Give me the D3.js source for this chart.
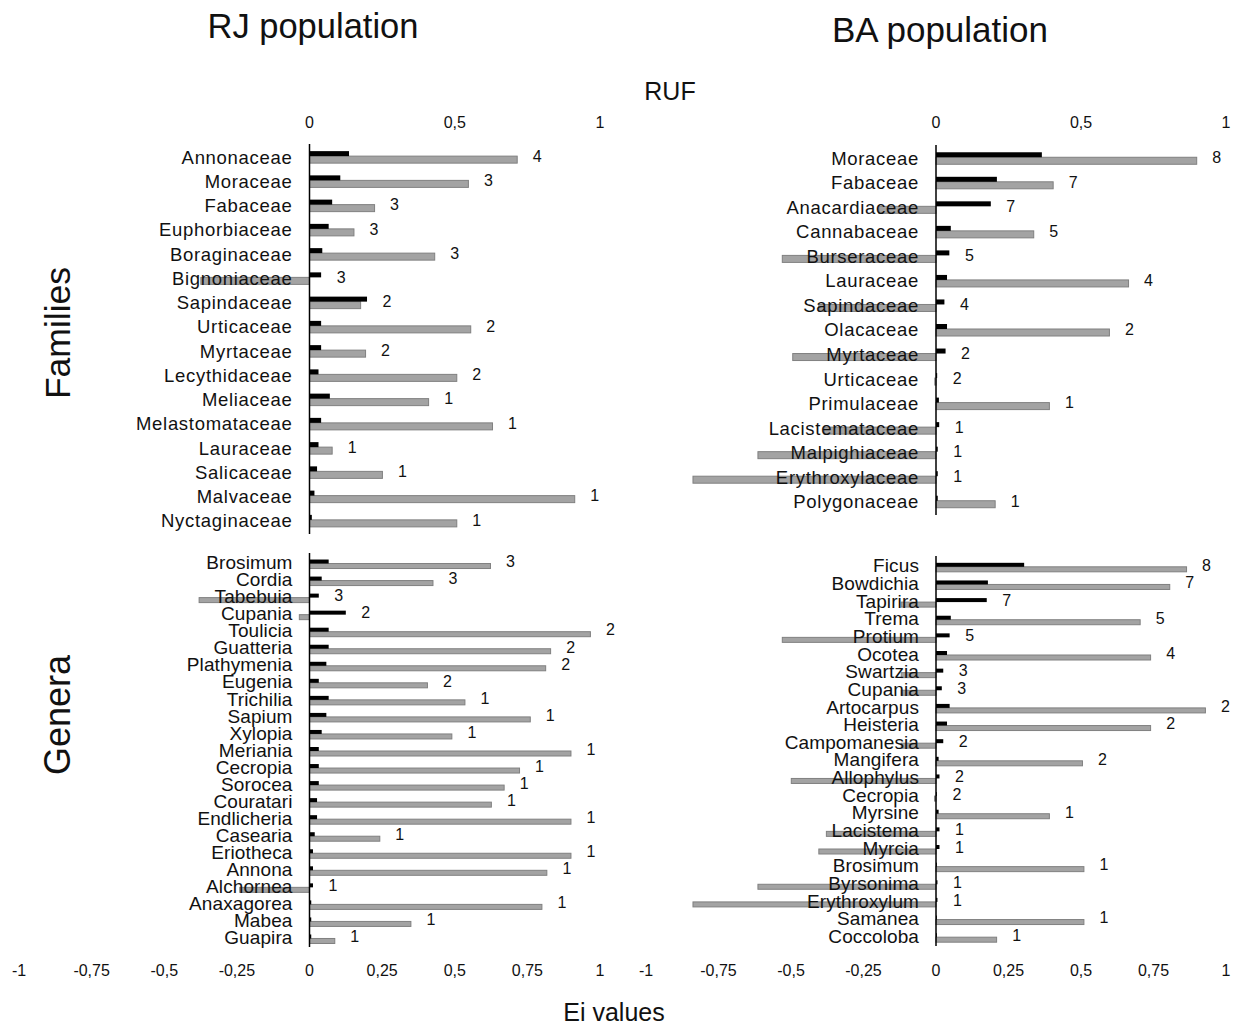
<!DOCTYPE html>
<html>
<head>
<meta charset="utf-8">
<script src="https://cdn.jsdelivr.net/npm/d3@7"></script>
<style>
  body { margin: 0; background: #fff; }
  text { font-family: "Liberation Sans", Arial, sans-serif; fill: #111; }
</style>
</head>
<body>
<script>
// RJ population - families
var rjFamilies = ["Annonaceae","Moraceae","Fabaceae","Euphorbiaceae","Boraginaceae","Bignoniaceae","Sapindaceae","Urticaceae","Myrtaceae","Lecythidaceae","Meliaceae","Melastomataceae","Lauraceae","Salicaceae","Malvaceae","Nyctaginaceae"];
var rjFamRuf = [0.136,0.106,0.078,0.066,0.044,0.040,0.198,0.040,0.040,0.031,0.070,0.040,0.031,0.026,0.017,0.008];
var rjFamEi  = [0.715,0.547,0.224,0.153,0.431,-0.374,0.176,0.555,0.193,0.507,0.410,0.630,0.078,0.251,0.913,0.507];
var rjFamN   = [4,3,3,3,3,3,2,2,2,2,1,1,1,1,1,1];

// BA population - families
var baFamilies = ["Moraceae","Fabaceae","Anacardiaceae","Cannabaceae","Burseraceae","Lauraceae","Sapindaceae","Olacaceae","Myrtaceae","Urticaceae","Primulaceae","Lacistemataceae","Malpighiaceae","Erythroxylaceae","Polygonaceae"];
var baFamRuf = [0.365,0.210,0.189,0.051,0.046,0.038,0.029,0.038,0.033,0.004,0.010,0.011,0.006,0.006,0.006];
var baFamEi  = [0.899,0.404,-0.197,0.337,-0.530,0.664,-0.404,0.598,-0.494,-0.004,0.391,-0.386,-0.614,-0.838,0.204];
var baFamN   = [8,7,7,5,5,4,4,2,2,2,1,1,1,1,1];

// RJ population - genera
var rjGenera = ["Brosimum","Cordia","Tabebuia","Cupania","Toulicia","Guatteria","Plathymenia","Eugenia","Trichilia","Sapium","Xylopia","Meriania","Cecropia","Sorocea","Couratari","Endlicheria","Casearia","Eriotheca","Annona","Alchornea","Anaxagorea","Mabea","Guapira"];
var rjGenRuf = [0.066,0.042,0.032,0.125,0.066,0.066,0.058,0.032,0.066,0.058,0.042,0.032,0.032,0.032,0.026,0.026,0.018,0.012,0.012,0.012,0.006,0.006,0.006];
var rjGenEi  = [0.623,0.425,-0.380,-0.035,0.967,0.830,0.813,0.406,0.535,0.760,0.490,0.900,0.723,0.670,0.626,0.900,0.242,0.900,0.817,-0.240,0.800,0.349,0.087];
var rjGenN   = [3,3,3,2,2,2,2,2,1,1,1,1,1,1,1,1,1,1,1,1,1,1,1];

// BA population - genera
var baGenera = ["Ficus","Bowdichia","Tapirira","Trema","Protium","Ocotea","Swartzia","Cupania","Artocarpus","Heisteria","Campomanesia","Mangifera","Allophylus","Cecropia","Myrsine","Lacistema","Myrcia","Brosimum","Byrsonima","Erythroxylum","Samanea","Coccoloba"];
var baGenRuf = [0.304,0.179,0.175,0.051,0.047,0.038,0.025,0.020,0.047,0.038,0.025,0.009,0.012,0.003,0.009,0.012,0.012,0.003,0.005,0.005,0.003,0.003];
var baGenEi  = [0.864,0.806,-0.120,0.704,-0.530,0.740,-0.120,-0.120,0.929,0.740,-0.120,0.505,-0.499,-0.005,0.391,-0.378,-0.404,0.510,-0.614,-0.838,0.510,0.209];
var baGenN   = [8,7,7,5,5,4,3,3,2,2,2,2,2,2,1,1,1,1,1,1,1,1];

var eiTicks  = [-1,-0.75,-0.5,-0.25,0,0.25,0.5,0.75,1];
var rufTicks = [0,0.5,1];

var W = 1235, H = 1028;
var svg = d3.select("body").append("svg").attr("width", W).attr("height", H);

var fmt = function(d) { return String(d).replace(".", ","); };

// one scale per column (Ei and RUF share the same pixel scale)
var xLeft  = d3.scaleLinear().domain([-1, 1]).range([19, 600]);
var xRight = d3.scaleLinear().domain([-1, 1]).range([646, 1226]);

function panel(x, names, ruf, ei, n, y0, y1, opt) {
  var y = d3.scaleBand().domain(names).range([y0, y1]);
  var g = svg.append("g");
  var bh = opt.blackH, gh = opt.grayH;

  var rows = names.map(function(d, i) { return {name: d, ruf: ruf[i], ei: ei[i], n: n[i]}; });

  // Ei bars (gray, below)
  g.selectAll("rect.ei").data(rows).enter().append("rect")
    .attr("class", "ei")
    .attr("x", function(d) { return x(Math.min(0, d.ei)); })
    .attr("y", function(d) { return y(d.name) + y.bandwidth() / 2 + opt.off; })
    .attr("width", function(d) { return Math.abs(x(d.ei) - x(0)); })
    .attr("height", gh)
    .attr("fill", "#a3a3a3")
    .attr("stroke", "#808080")
    .attr("stroke-width", 1);

  // RUF bars (black, above)
  g.selectAll("rect.ruf").data(rows).enter().append("rect")
    .attr("class", "ruf")
    .attr("x", x(0))
    .attr("y", function(d) { return y(d.name) + y.bandwidth() / 2 + opt.off - bh; })
    .attr("width", function(d) { return x(d.ruf) - x(0); })
    .attr("height", bh)
    .attr("fill", "#000");

  // category labels (drawn over the bars, as in the original)
  g.selectAll("text.lab").data(rows).enter().append("text")
    .attr("class", "lab")
    .attr("x", x(0) - 17)
    .attr("y", function(d) { return y(d.name) + y.bandwidth() / 2; })
    .attr("dy", "0.35em")
    .attr("text-anchor", "end")
    .style("font-size", opt.fontSize + "px")
    .style("letter-spacing", opt.spacing + "px")
    .text(function(d) { return d.name; });

  // counts
  g.selectAll("text.n").data(rows).enter().append("text")
    .attr("class", "n")
    .attr("x", function(d) { return x(Math.max(0, d.ruf, d.ei)) + 20; })
    .attr("y", function(d) { return y(d.name) + y.bandwidth() / 2; })
    .attr("dy", "0.3em")
    .attr("text-anchor", "middle")
    .style("font-size", "16px")
    .text(function(d) { return d.n; });

  // vertical axis line
  g.append("line")
    .attr("x1", x(0)).attr("x2", x(0))
    .attr("y1", y0 - 1).attr("y2", y1 + 1)
    .attr("stroke", "#000").attr("stroke-width", 1.5);
}

panel(xLeft,  rjFamilies, rjFamRuf, rjFamEi, rjFamN, 145, 533, {blackH: 5, grayH: 7, off: -1, fontSize: 18.5, spacing: 0.7});
panel(xRight, baFamilies, baFamRuf, baFamEi, baFamN, 146, 514, {blackH: 5, grayH: 7, off: -1, fontSize: 18.5, spacing: 0.7});
panel(xLeft,  rjGenera,   rjGenRuf, rjGenEi, rjGenN, 554, 946, {blackH: 4, grayH: 5, off: 1, fontSize: 19, spacing: 0.1});
panel(xRight, baGenera,   baGenRuf, baGenEi, baGenN, 557, 945, {blackH: 4, grayH: 5, off: 1, fontSize: 19, spacing: 0.1});

// RUF tick labels on top of the family panels
[xLeft, xRight].forEach(function(x) {
  svg.append("g").selectAll("text").data(rufTicks).enter().append("text")
    .attr("x", function(d) { return x(d); })
    .attr("y", 128)
    .attr("text-anchor", "middle")
    .style("font-size", "16px")
    .text(fmt);
});

// Ei tick labels at the bottom
[xLeft, xRight].forEach(function(x) {
  svg.append("g").selectAll("text").data(eiTicks).enter().append("text")
    .attr("x", function(d) { return x(d); })
    .attr("y", 976)
    .attr("text-anchor", "middle")
    .style("font-size", "16px")
    .text(fmt);
});

// titles
svg.append("text").attr("x", 313).attr("y", 38).attr("text-anchor", "middle")
  .style("font-size", "34.5px").text("RJ population");
svg.append("text").attr("x", 940).attr("y", 42).attr("text-anchor", "middle")
  .style("font-size", "35px").text("BA population");
svg.append("text").attr("x", 670).attr("y", 100).attr("text-anchor", "middle")
  .style("font-size", "25px").text("RUF");
svg.append("text").attr("x", 614).attr("y", 1021).attr("text-anchor", "middle")
  .style("font-size", "25px").text("Ei values");
svg.append("text").attr("transform", "translate(70,333) rotate(-90)").attr("text-anchor", "middle")
  .style("font-size", "35.5px").text("Families");
svg.append("text").attr("transform", "translate(70,715) rotate(-90)").attr("text-anchor", "middle")
  .style("font-size", "36px").text("Genera");
</script>
</body>
</html>
